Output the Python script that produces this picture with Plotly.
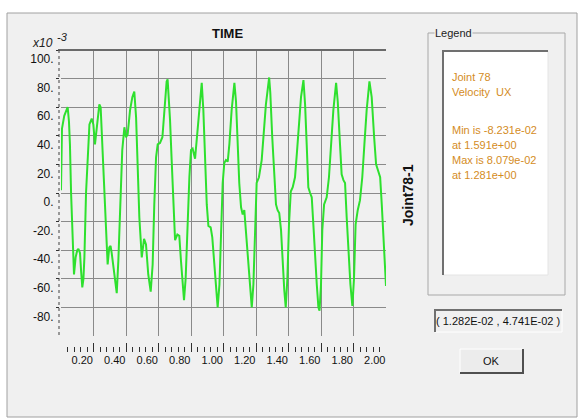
import numpy as np
import plotly.graph_objects as go

# ---- data (velocity, x10^-3) ----
time_s = [0.000, 0.006, 0.020, 0.030, 0.041, 0.049, 0.055, 0.062, 0.070, 0.080, 0.090, 0.100, 0.107, 0.117,
          0.124, 0.131, 0.138, 0.144, 0.154, 0.164, 0.175, 0.189, 0.199, 0.209, 0.221, 0.236, 0.244, 0.254,
          0.265, 0.275, 0.287, 0.297, 0.305, 0.312, 0.328, 0.343, 0.353, 0.365, 0.377, 0.390, 0.400, 0.410,
          0.425, 0.439, 0.451, 0.462, 0.472, 0.482, 0.497, 0.504, 0.511, 0.523, 0.537, 0.552, 0.564, 0.574,
          0.585, 0.595, 0.609, 0.624, 0.636, 0.650, 0.656, 0.671, 0.681, 0.691, 0.702, 0.716, 0.728, 0.738,
          0.749, 0.757, 0.767, 0.778, 0.790, 0.800, 0.810, 0.825, 0.840, 0.852, 0.866, 0.876, 0.886, 0.897,
          0.907, 0.921, 0.931, 0.944, 0.954, 0.964, 0.975, 0.985, 0.995, 1.005, 1.015, 1.026, 1.036, 1.050,
          1.067, 1.077, 1.087, 1.097, 1.108, 1.118, 1.128, 1.138, 1.153, 1.165, 1.174, 1.184, 1.194, 1.204,
          1.218, 1.235, 1.249, 1.261, 1.281, 1.288, 1.300, 1.313, 1.323, 1.333, 1.343, 1.354, 1.364, 1.374,
          1.383, 1.393, 1.403, 1.414, 1.426, 1.440, 1.451, 1.465, 1.477, 1.492, 1.502, 1.512, 1.522, 1.533,
          1.543, 1.553, 1.563, 1.574, 1.584, 1.591, 1.600, 1.608, 1.619, 1.635, 1.649, 1.662, 1.676, 1.693,
          1.703, 1.717, 1.727, 1.738, 1.748, 1.758, 1.768, 1.781, 1.793, 1.803, 1.813, 1.826, 1.840, 1.854,
          1.867, 1.881, 1.898, 1.912, 1.927, 1.939, 1.953, 1.964, 1.974, 1.984, 1.994, 2.000]
velocity_ux = [2, 45, 54, 57, 60, 50, 34, 0, -26, -57, -45, -40, -39, -42,
               -55, -66, -60, -45, 0, 27, 48, 52, 48, 34, 48, 62, 60, 34,
               0, -26, -50, -38, -37, -42, -57, -70, -47, 0, 30, 46, 39, 41,
               58, 67, 71, 53, 11, -17, -45, -36, -32, -36, -57, -69, -50, -8,
               25, 34, 35, 39, 58, 78, 79.5, 51, 23, -8, -33, -29, -30, -47,
               -64, -75, -60, -24, 11, 30, 31, 24, 44, 62, 77, 58, 23, -8,
               -23, -24, -31, -50, -68, -80, -64, -26, 7, 21, 23, 22, 34, 58,
               77, 64, 34, 7, -10, -15, -12, -26, -50, -68, -80, -64, -26, 7,
               11, 23, 44, 62, 80.8, 70, 39, 11, -8, -12, -14, -26, -50, -68,
               -80, -60, -22, 1, 4, 11, 27, 51, 67, 79, 62, 34, 4, 0,
               -3, -22, -45, -64, -80, -82.3, -64, -26, -8, -3, 11, 34, 58, 77,
               64, 34, 13, 9, 7, -17, -40, -64, -79, -60, -22, -12, -5, 11,
               34, 58, 78, 67, 39, 20, 15, 11, -8, -31, -60, -65]

x_tick_vals = [0.2, 0.4, 0.6, 0.8, 1.0, 1.2, 1.4, 1.6, 1.8, 2.0]
x_tick_text = ["0.20", "0.40", "0.60", "0.80", "1.00", "1.20", "1.40", "1.60", "1.80", "2.00"]
y_tick_vals = [100, 80, 60, 40, 20, 0, -20, -40, -60, -80]
y_tick_text = ["100.", "80.", "60.", "40.", "20.", "0.", "-20.", "-40.", "-60.", "-80."]

legend_lines_top = ["Joint 78", "Velocity  UX"]
legend_lines_bottom = ["Min is -8.231e-02", "at 1.591e+00", "Max is 8.079e-02", "at 1.281e+00"]
coord_text = "( 1.282E-02 , 4.741E-02 )"

W, H = 579, 418
def fx(x):
    return x / W
def fy(y):
    return 1 - y / H

FONT = "Liberation Sans, Arial, sans-serif"
ORANGE = "#d48c1e"

fig = go.Figure()
fig.add_trace(go.Scatter(x=time_s, y=velocity_ux, mode="lines",
                         line=dict(color="#2ee02e", width=2), hoverinfo="skip"))

minor_x = [float(v) for v in np.round(np.arange(0.04, 2.001, 0.04), 2) if abs(v / 0.2 - round(v / 0.2)) > 1e-6]

shapes = []
# dialog background & border
shapes.append(dict(type="rect", xref="paper", yref="paper", x0=fx(7), x1=fx(577), y0=fy(417), y1=fy(13),
                   fillcolor="#f0f0f0", line=dict(color="#a0a0a0", width=1), layer="below"))
# legend group box
shapes.append(dict(type="rect", xref="paper", yref="paper", x0=fx(428), x1=fx(565), y0=fy(295), y1=fy(33),
                   fillcolor="rgba(0,0,0,0)", line=dict(color="#a8a8a8", width=1), layer="below"))
# legend white box (sunken)
shapes.append(dict(type="rect", xref="paper", yref="paper", x0=fx(443), x1=fx(548), y0=fy(275), y1=fy(51),
                   fillcolor="white", line=dict(color="#e4e4e4", width=1), layer="below"))
shapes.append(dict(type="path", xref="paper", yref="paper",
                   path=f"M {fx(443)},{fy(275)} L {fx(443)},{fy(51)} L {fx(548)},{fy(51)}",
                   line=dict(color="#707070", width=2)))
# coordinate box
shapes.append(dict(type="rect", xref="paper", yref="paper", x0=fx(435), x1=fx(562), y0=fy(332), y1=fy(310),
                   fillcolor="#f0f0f0", line=dict(color="#ffffff", width=1), layer="below"))
shapes.append(dict(type="path", xref="paper", yref="paper",
                   path=f"M {fx(435)},{fy(332)} L {fx(435)},{fy(310)} L {fx(562)},{fy(310)}",
                   line=dict(color="#707070", width=2)))
# OK button
shapes.append(dict(type="rect", xref="paper", yref="paper", x0=fx(460), x1=fx(523), y0=fy(373), y1=fy(349),
                   fillcolor="#ececec", line=dict(color="#ffffff", width=1), layer="below"))
shapes.append(dict(type="path", xref="paper", yref="paper",
                   path=f"M {fx(460)},{fy(373)} L {fx(523)},{fy(373)} L {fx(523)},{fy(349)}",
                   line=dict(color="#505050", width=2)))
# plot frame: dark top border, dotted left axis
shapes.append(dict(type="line", xref="paper", yref="paper", x0=fx(58), x1=fx(386), y0=fy(50), y1=fy(50),
                   line=dict(color="#6a6a6a", width=2)))
shapes.append(dict(type="line", xref="paper", yref="paper", x0=fx(59), x1=fx(59), y0=fy(50), y1=fy(337),
                   line=dict(color="#404040", width=1, dash="dot")))

def note(text, x, y, xanchor="center", size=11, color="#111", family=FONT, **kw):
    return dict(text=text, xref="paper", yref="paper", x=fx(x), y=fy(y), xanchor=xanchor, yanchor="middle",
                showarrow=False, font=dict(family=family, size=size, color=color), **kw)

annotations = []
annotations.append(note("<b>TIME</b>", 227, 34, size=13))
annotations.append(note("<i>x10</i>", 30, 43, xanchor="left", size=12, color="#222"))
annotations.append(note("<i>-3</i>", 55, 37, xanchor="left", size=11, color="#222"))
annotations.append(note("<b>Joint78-1</b>", 408, 195, size=14, textangle=-90))
annotations.append(note("Legend", 434, 33, xanchor="left", size=11, color="#222",
                        bgcolor="#f0f0f0", borderpad=0))
for i, line in enumerate(legend_lines_top):
    annotations.append(note(line, 450, 77 + 15 * i, xanchor="left", size=11, color=ORANGE))
for i, line in enumerate(legend_lines_bottom):
    annotations.append(note(line, 450, 130 + 15 * i, xanchor="left", size=11, color=ORANGE))
annotations.append(note(coord_text, 498, 321, size=11))
annotations.append(note("OK", 491, 361, size=11))

fig.update_layout(
    width=W, height=H,
    margin=dict(l=0, r=0, t=0, b=0),
    paper_bgcolor="white",
    plot_bgcolor="white",
    showlegend=False,
    shapes=shapes,
    annotations=annotations,
    xaxis=dict(domain=[fx(61), fx(386)], range=[0, 2], anchor="free", position=fy(352),
               tickvals=x_tick_vals, ticktext=x_tick_text, ticks="inside", ticklen=9, tickcolor="#303030",
               ticklabelposition="outside left", tickangle=0,
               showgrid=True, gridcolor="#8a8a8a", gridwidth=1, zeroline=False, showline=False,
               minor=dict(tickvals=minor_x, ticks="inside", ticklen=5, tickcolor="#303030", showgrid=False),
               tickfont=dict(family=FONT, size=11, color="#111"), fixedrange=True),
    yaxis=dict(domain=[fy(336), fy(50)], range=[-100, 100], anchor="free", position=fx(59),
               tickvals=y_tick_vals, ticktext=y_tick_text, ticks="outside", ticklen=3, tickcolor="#303030",
               ticklabelposition="outside bottom", ticklabelstandoff=3,
               showgrid=True, gridcolor="#8a8a8a", gridwidth=1, zeroline=False, showline=False,
               tickfont=dict(family=FONT, size=12, color="#111"), fixedrange=True),
)

fig.write_html("out.html", config={"displayModeBar": False},
               post_script="document.body.style.margin='0';")
